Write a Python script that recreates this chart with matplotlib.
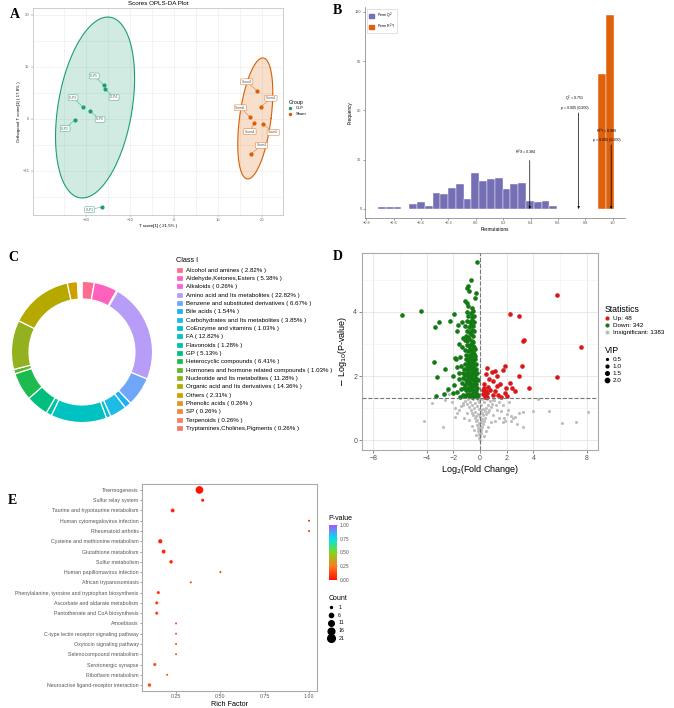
import numpy as np
import matplotlib.pyplot as plt
from matplotlib.colors import LinearSegmentedColormap
from matplotlib.lines import Line2D
from matplotlib.patches import Patch

plt.rcParams['font.family'] = ['Liberation Sans', 'DejaVu Sans']

# ---------------- data ----------------
# A: OPLS-DA scores
clp_x = [-15.9, -15.7, -20.7, -19.1, -22.5, -16.4]
clp_y = [9.8, 8.7, 3.5, 2.3, -0.3, -25.4]
clp_names = ['CLP5', 'CLP4', 'CLP3', 'CLP6', 'CLP2', 'CLP1']
sham_x = [18.9, 19.8, 17.3, 18.2, 20.3, 17.5]
sham_y = [8.1, 3.5, 0.6, -1.2, -1.4, -10.1]
sham_names = ['Sham3', 'Sham2', 'Sham6', 'Sham4', 'Sham5', 'Sham1']

# B: permutation test
q2_counts = [1, 1, 1, 0, 3, 4, 2, 10, 9, 13, 15, 6, 22, 17, 18, 19, 12, 15, 16, 5, 4, 5, 2]
q2_start, bin_w = -0.715, 0.0569
r2y_edges = [0.895, 0.951, 1.006]
r2y_counts = [82, 118]
r2x_val, q2_val, r2y_val = 0.384, 0.751, 0.989

# C: class composition
class_names = ['Alcohol and amines', 'Aldehyde,Ketones,Esters', 'Alkaloids',
               'Amino acid and Its metabolites', 'Benzene and substituted derivatives',
               'Bile acids', 'Carbohydrates and Its metabolites', 'CoEnzyme and vitamins',
               'FA', 'Flavonoids', 'GP', 'Heterocyclic compounds',
               'Hormones and hormone related compounds', 'Nucleotide and Its metabolites',
               'Organic acid and Its derivatives', 'Others', 'Phenolic acids', 'SP',
               'Terpenoids', 'Tryptamines,Cholines,Pigments']
class_pct = [2.82, 5.38, 0.26, 22.82, 6.67, 1.54, 3.85, 1.03, 12.82, 1.28, 5.13, 6.41,
             1.03, 11.28, 14.36, 2.31, 0.26, 0.26, 0.26, 0.26]
class_colors = ['#FF6C91', '#FF62BC', '#FA62DB', '#B79CF8', '#6FA6F8', '#1FAFF3', '#1CBCE6',
                '#00BFD0', '#00C2C0', '#00C1A3', '#00BE7D', '#1DBB4E', '#5BB82A', '#93B11E',
                '#B5A900', '#CFA000', '#E29520', '#EE8A3C', '#F6805A', '#F8766D']

# D: volcano
up_pts = [(5.74, 4.53), (2.25, 3.93), (2.92, 3.88), (3.32, 3.12), (3.25, 3.09), (7.6, 2.9),
          (5.74, 1.97), (3.12, 2.30), (2.95, 2.0), (3.70, 1.61), (2.25, 1.78), (2.37, 1.64),
          (1.87, 1.47), (2.0, 1.38), (1.87, 2.30), (1.75, 2.19), (1.12, 2.15), (1.25, 2.01),
          (0.87, 2.12), (0.5, 2.25), (0.45, 2.07), (1.0, 1.83), (0.3, 1.62), (0.45, 1.52),
          (0.38, 1.43), (0.5, 1.35), (0.75, 1.55), (1.12, 1.52), (1.37, 1.42), (1.25, 1.68),
          (0.6, 1.66), (0.25, 1.45), (0.2, 1.55), (0.35, 1.35), (0.55, 1.48), (0.95, 1.4),
          (1.6, 1.33), (1.5, 1.75), (0.7, 1.9), (0.3, 1.75), (2.6, 1.52), (1.95, 1.62)]
down_pts = [(-5.82, 3.91), (-4.44, 4.02), (-3.37, 3.54), (-3.05, 3.70), (-2.25, 3.73),
            (-1.92, 3.94), (-3.47, 2.43), (-3.2, 1.97), (-2.62, 2.22), (-3.3, 1.39),
            (-2.05, 1.99), (-1.92, 1.73), (-1.87, 2.57), (-1.8, 2.53), (-1.75, 2.27),
            (-2.05, 1.47), (-1.75, 3.40), (-1.62, 3.58), (-1.37, 3.69), (-0.22, 5.57),
            (-0.7, 4.99), (-0.87, 4.82), (-1.0, 4.76), (-0.8, 4.66), (-0.32, 4.59),
            (-0.35, 4.44), (-1.12, 4.35), (-1.0, 4.29), (-0.92, 4.17), (-0.6, 4.13),
            (-1.7, 1.5), (-1.55, 1.9), (-1.6, 2.1), (-1.45, 2.3), (-1.5, 2.6), (-1.35, 2.9),
            (-1.3, 3.2), (-1.6, 3.0), (-2.4, 1.6), (-2.7, 1.45),
            (-1.52, 1.36), (-1.31, 1.41), (-1.12, 1.38), (-0.97, 1.45), (-0.86, 1.37),
            (-0.74, 1.43), (-0.63, 1.36), (-0.52, 1.44), (-0.44, 1.39), (-0.33, 1.47),
            (-0.24, 1.35), (-0.14, 1.42), (-1.41, 1.58), (-1.18, 1.62), (-1.02, 1.55),
            (-0.91, 1.64), (-0.79, 1.57), (-0.69, 1.66), (-0.58, 1.6), (-0.49, 1.53),
            (-0.41, 1.68), (-0.29, 1.57), (-0.19, 1.63), (-1.33, 1.77), (-1.14, 1.72),
            (-0.96, 1.8), (-0.84, 1.74), (-0.73, 1.83), (-0.61, 1.76), (-0.51, 1.71),
            (-0.38, 1.81), (-0.27, 1.75), (-0.17, 1.86), (-1.24, 1.93), (-1.06, 1.89),
            (-0.89, 1.96), (-0.77, 1.9), (-0.65, 1.98), (-0.55, 1.92), (-0.44, 1.87),
            (-0.34, 1.95), (-0.21, 1.91), (-1.29, 2.08), (-1.09, 2.04), (-0.94, 2.11),
            (-0.83, 2.03), (-0.71, 2.09), (-0.59, 2.06), (-0.47, 2.12), (-0.36, 2.02),
            (-0.26, 2.09), (-1.19, 2.21), (-1.01, 2.26), (-0.87, 2.18), (-0.76, 2.24),
            (-0.63, 2.2), (-0.5, 2.27), (-0.39, 2.19), (-0.29, 2.23), (-1.1, 2.37),
            (-0.93, 2.33), (-0.81, 2.4), (-0.67, 2.35), (-0.54, 2.42), (-0.43, 2.34),
            (-0.31, 2.38), (-1.04, 2.52), (-0.89, 2.48), (-0.76, 2.55), (-0.63, 2.5),
            (-0.5, 2.46), (-0.38, 2.53), (-1.02, 2.66), (-0.84, 2.63), (-0.71, 2.7),
            (-0.59, 2.64), (-0.46, 2.68), (-0.34, 2.62), (-1.09, 2.81), (-0.9, 2.78),
            (-0.77, 2.85), (-0.65, 2.8), (-0.52, 2.76), (-0.41, 2.83), (-0.99, 2.96),
            (-0.82, 2.93), (-0.69, 3.0), (-0.56, 2.95), (-0.43, 2.91), (-1.16, 3.12),
            (-0.95, 3.08), (-0.79, 3.15), (-0.63, 3.1), (-0.49, 3.06), (-1.06, 3.26),
            (-0.87, 3.23), (-0.71, 3.3), (-0.55, 3.24), (-0.98, 3.41), (-0.81, 3.38),
            (-0.62, 3.44), (-0.46, 3.39), (-1.1, 3.56), (-0.86, 3.53), (-0.67, 3.6),
            (-0.52, 3.55), (-0.95, 3.71), (-0.75, 3.68), (-0.58, 3.74), (-0.42, 3.7),
            (-0.88, 3.86), (-0.63, 3.83), (-0.45, 3.88), (-0.95, 4.0), (-0.71, 3.97),
            (-0.5, 4.03)]
insig_pts = [(-4.17, 0.6), (-3.62, 1.15), (-2.8, 0.42), (-1.87, 0.71), (3.95, 0.92),
             (5.2, 0.92), (6.17, 0.52), (7.19, 0.55), (8.07, 0.87), (4.37, 1.29), (3.2, 0.87),
             (2.95, 0.86), (3.25, 0.42), (-2.5, 1.52), (-2.3, 1.45), (-2.6, 1.25), (2.0, 0.8),
             (1.8, 0.7), (1.7, 0.55), (2.3, 0.75), (2.5, 0.68), (1.6, 0.9), (-1.6, 0.95),
             (-1.3, 1.1), (-1.9, 1.0), (-0.05, 0.05), (0.02, 0.12), (-0.08, 0.18), (0.06, 0.22),
             (-0.12, 0.27), (0.1, 0.3), (-0.02, 0.33), (-0.18, 0.38), (0.15, 0.4), (0.03, 0.44),
             (-0.25, 0.47), (0.22, 0.5), (-0.1, 0.53), (0.08, 0.56), (-0.32, 0.58), (0.3, 0.6),
             (-0.2, 0.63), (0.18, 0.65), (-0.4, 0.68), (0.38, 0.7), (0.0, 0.72), (-0.28, 0.74),
             (0.26, 0.77), (-0.5, 0.79), (0.48, 0.8), (-0.12, 0.82), (0.12, 0.84), (-0.6, 0.86),
             (0.58, 0.87), (-0.36, 0.89), (0.35, 0.91), (-0.7, 0.93), (0.68, 0.94), (-0.05, 0.96),
             (0.2, 0.98), (-0.48, 1.0), (0.45, 1.01), (-0.82, 1.03), (0.8, 1.04), (-0.22, 1.06),
             (0.06, 1.08), (-0.62, 1.1), (0.6, 1.11), (-0.95, 1.13), (0.92, 1.14), (-0.35, 1.16),
             (0.3, 1.18), (-0.75, 1.2), (0.72, 1.21), (-1.1, 1.23), (1.05, 1.24), (-0.15, 1.26),
             (0.15, 1.27), (-0.55, 1.28), (0.5, 1.29), (-1.3, 1.15), (1.2, 1.1), (-1.0, 0.85),
             (1.0, 0.78), (-0.85, 0.62), (0.85, 0.55), (-0.6, 0.45), (0.62, 0.4), (-0.42, 0.3),
             (0.45, 0.28), (-0.3, 0.15), (0.28, 0.14), (0.05, 0.62), (-0.06, 0.77), (0.1, 0.93),
             (-0.1, 1.18), (1.3, 0.95), (1.45, 0.7), (1.15, 0.6), (-1.2, 0.7), (-1.45, 1.05),
             (1.4, 1.2), (0.95, 1.25), (-0.9, 1.27), (1.9, 0.6), (2.1, 0.95), (1.7, 1.1),
             (2.3, 0.6), (2.6, 0.72), (2.8, 0.5), (2.2, 1.2), (-1.7, 0.85), (-2.1, 1.2), (0.0, 0.0)]

# E: KEGG enrichment
pathways = ['Thermogenesis', 'Sulfur relay system', 'Taurine and hypotaurine metabolism',
            'Human cytomegalovirus infection', 'Rheumatoid arthritis',
            'Cysteine and methionine metabolism', 'Glutathione metabolism', 'Sulfur metabolism',
            'Human papillomavirus infection', 'African trypanosomiasis',
            'Phenylalanine, tyrosine and tryptophan biosynthesis',
            'Ascorbate and aldarate metabolism', 'Pantothenate and CoA biosynthesis',
            'Amoebiasis', 'C-type lectin receptor signaling pathway',
            'Oxytocin signaling pathway', 'Selenocompound metabolism', 'Serotonergic synapse',
            'Riboflavin metabolism', 'Neuroactive ligand-receptor interaction']
rich = [0.382, 0.40, 0.231, 1.0, 1.0, 0.161, 0.18, 0.222, 0.50, 0.333, 0.15, 0.141, 0.141,
        0.25, 0.25, 0.25, 0.25, 0.13, 0.20, 0.10]
counts = [21, 3, 5, 1, 1, 6, 5, 4, 1, 1, 3, 3, 3, 1, 1, 1, 1, 3, 1, 4]
pvals = [0.0, 0.03, 0.05, 0.06, 0.06, 0.05, 0.05, 0.06, 0.07, 0.08, 0.10, 0.11, 0.11,
         0.13, 0.13, 0.13, 0.13, 0.14, 0.14, 0.16]

# ---------------- figure ----------------
W, H = 674, 708
fig = plt.figure(figsize=(W / 100, H / 100), dpi=100)


def box(l, t, r, b):
    return [l / W, 1 - b / H, (r - l) / W, (b - t) / H]


def letter(x, y, s):
    fig.text(x / W, 1 - y / H, s, family='Liberation Serif', weight='bold', fontsize=10,
             va='center', ha='left')


# ---- A ----
green, orange = '#1B9E77', '#D95F02'
axA = fig.add_axes(box(33, 8, 283, 215))
t = np.linspace(0, 2 * np.pi, 200)
for (cx, cy, mx, my, nx), c in [((-17.9, 3.3, 2.9, 26.1, 8.5), green),
                                ((18.5, 0.15, 1.7, 17.45, 3.6), orange)]:
    ex = cx + mx * np.sin(t) + nx * np.cos(t)
    ey = cy + my * np.sin(t)
    axA.fill(ex, ey, color=c, alpha=0.2, lw=0)
    axA.plot(ex, ey, color=c, lw=0.8)
axA.scatter(clp_x, clp_y, s=4, color=green, zorder=3)
axA.scatter(sham_x, sham_y, s=4, color=orange, zorder=3)
offs = [(-7, 6.5), (6.7, -6.2), (-7, 6.5), (7.4, -6), (-7, -6.2), (-8.6, -1.9)]
sham_offs = [(-7.4, 6.5), (7.2, 6.2), (-7, 6.5), (-2.9, -6.2), (7.2, -6.2), (7.7, 6.2)]
for xs, ys, names, oo, c in [(clp_x, clp_y, clp_names, offs, green),
                             (sham_x, sham_y, sham_names, sham_offs, orange)]:
    for x, y, n, o in zip(xs, ys, names, oo):
        axA.annotate(n, (x, y), xytext=o, textcoords='offset points', fontsize=2.3,
                     color='#555555', ha='center', va='center',
                     bbox=dict(boxstyle='round,pad=0.3', fc='white', ec=c, lw=0.3),
                     arrowprops=dict(arrowstyle='-', color=c, lw=0.3, shrinkA=0, shrinkB=0))
axA.set_xlim(-32, 24.8)
axA.set_ylim(-27.7, 32)
axA.set_xticks([-20, -10, 0, 10, 20])
axA.set_yticks([-15, 0, 15, 30])
axA.set_xticks([-25, -15, -5, 5, 15], minor=True)
axA.set_yticks([-22.5, -7.5, 7.5, 22.5], minor=True)
axA.grid(True, which='both', color='#EBEBEB', lw=0.4)
axA.set_axisbelow(True)
axA.tick_params(labelsize=3, length=1.5, width=0.3, colors='#666666', pad=1)
axA.tick_params(which='minor', length=0)
for s in axA.spines.values():
    s.set_color('#BBBBBB')
    s.set_linewidth(0.5)
axA.set_xlabel('T score[1] ( 21.5% )', fontsize=3.2, labelpad=1)
axA.set_ylabel('Orthogonal T score[1] ( 17.8% )', fontsize=3.2, labelpad=1)
axA.set_title('Scores OPLS-DA Plot', fontsize=4.5, pad=2)
axA.legend(handles=[Line2D([], [], marker='o', ls='', color=green, ms=1.5),
                    Line2D([], [], marker='o', ls='', color=orange, ms=1.5)],
           labels=['CLP', 'Sham'], title='Group', loc='upper left',
           bbox_to_anchor=(285 / W, 1 - 96 / H), bbox_transform=fig.transFigure,
           frameon=False, fontsize=3, title_fontsize=3.8, handlelength=0.8,
           labelspacing=0.4, alignment='left')
letter(10, 14, 'A')

# ---- B ----
purple, orng = '#7570B5', '#E0600C'
axB = fig.add_axes(box(365, 7, 625, 218))
q2_left = q2_start + bin_w * np.arange(len(q2_counts))
axB.bar(q2_left, q2_counts, width=bin_w, align='edge', color=purple, edgecolor='white', lw=0.3)
axB.bar(r2y_edges[:-1], r2y_counts, width=np.diff(r2y_edges), align='edge', color=orng,
        edgecolor='white', lw=0.3)
for xv, top, lab in [(r2x_val + 0.01, 29.5, 'R$^2$X = %.3f' % r2x_val),
                     (q2_val, 58.5, 'Q$^2$ = %.3f\np = 0.005 (0/200)' % q2_val),
                     (r2y_val, 39, 'R$^2$Y = %.3f\np = 0.005 (0/200)' % r2y_val)]:
    axB.annotate('', xy=(xv, 0), xytext=(xv, top),
                 arrowprops=dict(arrowstyle='-|>', color='black', lw=0.5, mutation_scale=3,
                                 shrinkA=0, shrinkB=0))
    axB.text(xv - 0.03, top + 2, lab, fontsize=2.6, ha='center', va='bottom', linespacing=1.6)
axB.set_xlim(-0.81, 1.09)
axB.set_ylim(-5.5, 123)
axB.set_xticks(np.round(np.arange(-0.8, 1.01, 0.2), 1))
axB.set_yticks([0, 30, 60, 90, 120])
axB.tick_params(labelsize=2.8, length=1.5, width=0.4, colors='#555555', pad=1)
for s in ['top', 'right']:
    axB.spines[s].set_visible(False)
for s in ['left', 'bottom']:
    axB.spines[s].set_color('#777777')
    axB.spines[s].set_linewidth(0.5)
axB.set_xlabel('Permutations', fontsize=3.4, labelpad=1)
axB.set_ylabel('Frequency', fontsize=3.4, labelpad=2)
axB.legend(handles=[Patch(color=purple), Patch(color=orng)],
           labels=['Perm Q$^2$', 'Perm R$^2$Y'], loc='upper left', fontsize=2.6,
           handlelength=1.6, handleheight=1.6, borderpad=0.5, labelspacing=0.2,
           fancybox=False, edgecolor='#CCCCCC', framealpha=1).get_frame().set_linewidth(0.4)
letter(333, 10, 'B')

# ---- C ----
axC = fig.add_axes(box(10, 280, 154, 424))
wedges, _ = axC.pie(class_pct, colors=class_colors, startangle=90, counterclock=False,
                    radius=1, wedgeprops=dict(width=0.25, edgecolor='white', linewidth=0.9))
axC.set_xlim(-1.02, 1.02)
axC.set_ylim(-1.02, 1.02)
labels = ['%s ( %.2f%% )' % (n, p) for n, p in zip(class_names, class_pct)]
axC.legend(wedges, labels, title='Class I', loc='upper left',
           bbox_to_anchor=(170 / W, 1 - 252 / H), bbox_transform=fig.transFigure,
           frameon=False, fontsize=4.4, title_fontsize=5.2, handlelength=1.2,
           handleheight=1.1, labelspacing=0.38, handletextpad=0.6, alignment='left')
letter(8, 258, 'C')

# ---- D ----
red_c, green_c, grey_c = '#D7191C', '#147A14', '#BEBEBE'
axD = fig.add_axes(box(362, 253, 598, 450))
ix, iy = zip(*insig_pts)
dx, dy = zip(*down_pts)
ux, uy = zip(*up_pts)
axD.scatter(ix, iy, s=5, color=grey_c, lw=0, zorder=2)
axD.scatter(dx, dy, s=11, color=green_c, lw=0, zorder=3)
axD.scatter(ux, uy, s=11, color=red_c, lw=0, zorder=3)
axD.axhline(1.301, color='#777777', ls='--', lw=0.8, zorder=4)
axD.axvline(0, color='#777777', ls='--', lw=0.8, zorder=4)
axD.set_xlim(-8.84, 8.84)
axD.set_ylim(-0.31, 5.84)
axD.set_xticks([-8, -4, -2, 0, 2, 4, 8])
axD.set_yticks([0, 2, 4])
axD.set_xticks([-6, 6], minor=True)
axD.set_yticks([1, 3, 5], minor=True)
axD.grid(True, which='major', color='#E5E5E5', lw=0.6)
axD.grid(True, which='minor', color='#F0F0F0', lw=0.4)
axD.set_axisbelow(True)
axD.tick_params(labelsize=5, length=2, width=0.5, colors='#555555', pad=1.5)
axD.tick_params(which='minor', length=0)
for s in axD.spines.values():
    s.set_color('#AAAAAA')
    s.set_linewidth(0.8)
axD.set_xlabel('Log$_2$(Fold Change)', fontsize=6.5, labelpad=1)
axD.set_ylabel('$-$ Log$_{10}$(P-value)', fontsize=6.5, labelpad=3)
leg1 = axD.legend(handles=[Line2D([], [], marker='o', ls='', color=c, ms=2)
                           for c in [red_c, green_c, grey_c]],
                  labels=['Up: 48', 'Down: 342', 'Insignificant: 1383'], title='Statistics',
                  loc='upper left', bbox_to_anchor=(600 / W, 1 - 300 / H),
                  bbox_transform=fig.transFigure, frameon=False, fontsize=4.6,
                  title_fontsize=6.3, handlelength=0.7, handletextpad=0.5,
                  labelspacing=0.25, alignment='left', borderpad=0.3)
axD.add_artist(leg1)
axD.legend(handles=[Line2D([], [], marker='o', ls='', color='black', ms=m)
                    for m in [1.3, 2.0, 2.6, 3.1]],
           labels=['0.5', '1.0', '1.5', '2.0'], title='VIP', loc='upper left',
           bbox_to_anchor=(600 / W, 1 - 341 / H), bbox_transform=fig.transFigure,
           frameon=False, fontsize=4.6, title_fontsize=6.3, handlelength=0.7,
           handletextpad=0.5, labelspacing=0.25, alignment='left', borderpad=0.3)
letter(333, 256, 'D')

# ---- E ----
cmap = LinearSegmentedColormap.from_list('pv', ['#FF1200', '#FF7A20', '#7FD81E', '#00E3F0',
                                                '#A057FF'])
axE = fig.add_axes(box(142, 484, 317, 691))
ypos = np.arange(len(pathways))[::-1]
sizes = [(4 + 2.75 * (c - 1)) / 1.93 for c in counts]
sc = axE.scatter(rich, ypos, s=sizes, c=pvals, cmap=cmap, vmin=0, vmax=1, lw=0, zorder=3)
axE.set_yticks(ypos)
axE.set_yticklabels(pathways)
axE.set_ylim(-0.58, len(pathways) - 0.42)
axE.set_xlim(0.058, 1.045)
axE.set_xticks([0.25, 0.5, 0.75, 1.0])
axE.set_xticklabels(['0.25', '0.50', '0.75', '1.00'])
axE.tick_params(labelsize=3.8, length=1.5, width=0.4, colors='#555555', pad=1)
for s in axE.spines.values():
    s.set_color('#AAAAAA')
    s.set_linewidth(0.8)
axE.set_xlabel('Rich Factor', fontsize=5.2, labelpad=1)
cax = fig.add_axes(box(329, 525, 337, 580))
cb = fig.colorbar(sc, cax=cax, ticks=[0, 0.25, 0.5, 0.75, 1.0])
cb.ax.set_yticklabels(['0.00', '0.25', '0.50', '0.75', '1.00'])
cb.ax.tick_params(labelsize=3.5, length=1, width=0.3, pad=1, colors='#555555')
cb.outline.set_visible(False)
fig.text(328 / W, 1 - 519 / H, 'P-value', fontsize=5, va='center')
cnt_legend = [1, 6, 11, 16, 21]
axE.legend(handles=[Line2D([], [], marker='o', ls='', color='black',
                           ms=np.sqrt((4 + 2.75 * (c - 1)) / 1.93)) for c in cnt_legend],
           labels=[str(c) for c in cnt_legend], title='Count', loc='upper left',
           bbox_to_anchor=(324 / W, 1 - 590 / H), bbox_transform=fig.transFigure,
           frameon=False, fontsize=3.8, title_fontsize=5, handlelength=1.0,
           labelspacing=0.55, alignment='left')
letter(8, 500, 'E')

fig.savefig('out.png', dpi=100)
